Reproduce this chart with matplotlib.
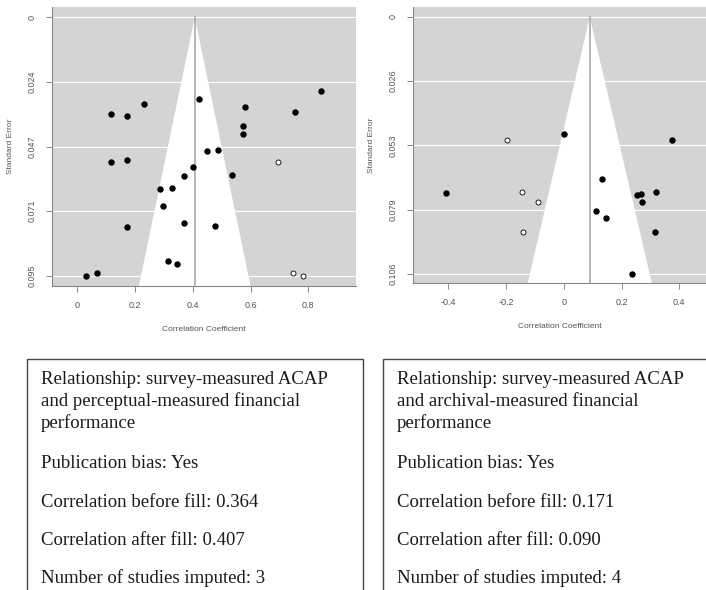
import matplotlib.pyplot as plt
from matplotlib.patches import Polygon, Rectangle

plt.rcParams['font.family'] = ['Liberation Sans', 'DejaVu Sans']

# left funnel: survey ACAP vs perceptual financial performance
left_x = [0.844, 0.423, 0.231, 0.118, 0.173, 0.580, 0.755, 0.573, 0.573, 0.451,
          0.487, 0.117, 0.173, 0.400, 0.371, 0.536, 0.287, 0.327, 0.297, 0.369,
          0.171, 0.477, 0.314, 0.346, 0.031, 0.067]
left_se = [0.0272, 0.0298, 0.0318, 0.0353, 0.0362, 0.0328, 0.0348, 0.0397, 0.0429, 0.0489,
           0.0486, 0.0532, 0.0522, 0.0551, 0.0582, 0.0580, 0.0630, 0.0628, 0.0694, 0.0755,
           0.0769, 0.0767, 0.0896, 0.0907, 0.0948, 0.0939]
left_fill_x = [0.696, 0.746, 0.782]
left_fill_se = [0.0532, 0.0939, 0.0948]
left_center = 0.407
left_yticks = [0, 0.0237, 0.0474, 0.0711, 0.0948]
left_ylabels = ['0', '0.024', '0.047', '0.071', '0.095']
left_xticks = [0, 0.2, 0.4, 0.6, 0.8]
left_xlabels = ['0', '0.2', '0.4', '0.6', '0.8']

# right funnel: survey ACAP vs archival financial performance
right_x = [0.000, 0.375, -0.409, 0.131, 0.255, 0.267, 0.321, 0.270, 0.112, 0.145, 0.317, 0.237]
right_se = [0.0482, 0.0507, 0.0726, 0.0669, 0.0733, 0.0729, 0.0724, 0.0763, 0.0800, 0.0831,
            0.0886, 0.1059]
right_fill_x = [-0.197, -0.144, -0.090, -0.140]
right_fill_se = [0.0507, 0.0724, 0.0763, 0.0886]
right_center = 0.090
right_yticks = [0, 0.0265, 0.053, 0.0795, 0.106]
right_ylabels = ['0', '0.026', '0.053', '0.079', '0.106']
right_xticks = [-0.4, -0.2, 0, 0.2, 0.4]
right_xlabels = ['-0.4', '-0.2', '0', '0.2', '0.4']

left_text = ["Relationship: survey-measured ACAP",
             "and perceptual-measured financial",
             "performance",
             "Publication bias: Yes",
             "Correlation before fill: 0.364",
             "Correlation after fill: 0.407",
             "Number of studies imputed: 3"]
right_text = ["Relationship: survey-measured ACAP",
              "and archival-measured financial",
              "performance",
              "Publication bias: Yes",
              "Correlation before fill: 0.171",
              "Correlation after fill: 0.090",
              "Number of studies imputed: 4"]

W, H = 706, 590
fig = plt.figure(figsize=(W / 100, H / 100), dpi=100)


def px_axes(x0, y0, x1, y1):
    return fig.add_axes([x0 / W, 1 - y1 / H, (x1 - x0) / W, (y1 - y0) / H])


def funnel(ax, xs, ses, fx, fse, center, xlim, ylim, xt, xl, yt, yl):
    ax.set_facecolor('#d4d4d4')
    ax.set_xlim(*xlim)
    ax.set_ylim(ylim[1], ylim[0])
    ymax = ylim[1]
    ax.add_patch(Polygon([(center - 1.96 * ymax, ymax), (center, 0), (center + 1.96 * ymax, ymax)],
                         closed=True, facecolor='white', edgecolor='none', zorder=1))
    for y in yt:
        ax.axhline(y, color='white', lw=0.8, zorder=1.5)
    ax.plot([center, center], [0, ymax], color='#aaaaaa', lw=1.2, zorder=2)
    ax.plot(xs, ses, 'o', color='black', ms=3.6, zorder=3)
    ax.plot(fx, fse, 'o', mfc='white', mec='black', mew=0.6, ms=3.6, zorder=3)
    ax.set_xticks(xt)
    ax.set_xticklabels(xl)
    ax.set_yticks(yt)
    ax.set_yticklabels(yl, rotation=90, va='center')
    for s in ['top', 'right']:
        ax.spines[s].set_visible(False)
    for s in ['left', 'bottom']:
        ax.spines[s].set_color('#888888')
        ax.spines[s].set_linewidth(0.8)
    ax.tick_params(colors='#888888', labelcolor='#555555', labelsize=6.5, length=4, width=0.7, pad=7)
    ax.set_xlabel('Correlation Coefficient', fontsize=6, color='#555555', labelpad=11)
    ax.set_ylabel('Standard Error', fontsize=6, color='#555555', labelpad=10)


ax1 = px_axes(52, 7, 356, 286)
funnel(ax1, left_x, left_se, left_fill_x, left_fill_se, left_center,
       (-0.087, 0.965), (-0.0038, 0.0986), left_xticks, left_xlabels, left_yticks, left_ylabels)

ax2 = px_axes(413, 7, 706, 283)
funnel(ax2, right_x, right_se, right_fill_x, right_fill_se, right_center,
       (-0.523, 0.493), (-0.0041, 0.1098), right_xticks, right_xlabels, right_yticks, right_ylabels)

# text boxes
baselines = [384, 406, 428, 468, 507, 545, 583]
for bx0, bx1, tx, lines in [(27, 363, 41, left_text), (383, 720, 397, right_text)]:
    fig.patches.append(Rectangle((bx0 / W, -0.1), (bx1 - bx0) / W, 1 - 359 / H + 0.1,
                                 transform=fig.transFigure, fill=False,
                                 edgecolor='#444444', lw=1.0))
    for line, yb in zip(lines, baselines):
        fig.text(tx / W, 1 - yb / H, line, family='Liberation Serif', fontsize=13.5,
                 color='#1a1a1a', va='baseline', ha='left')

fig.savefig('out.png', dpi=100)
